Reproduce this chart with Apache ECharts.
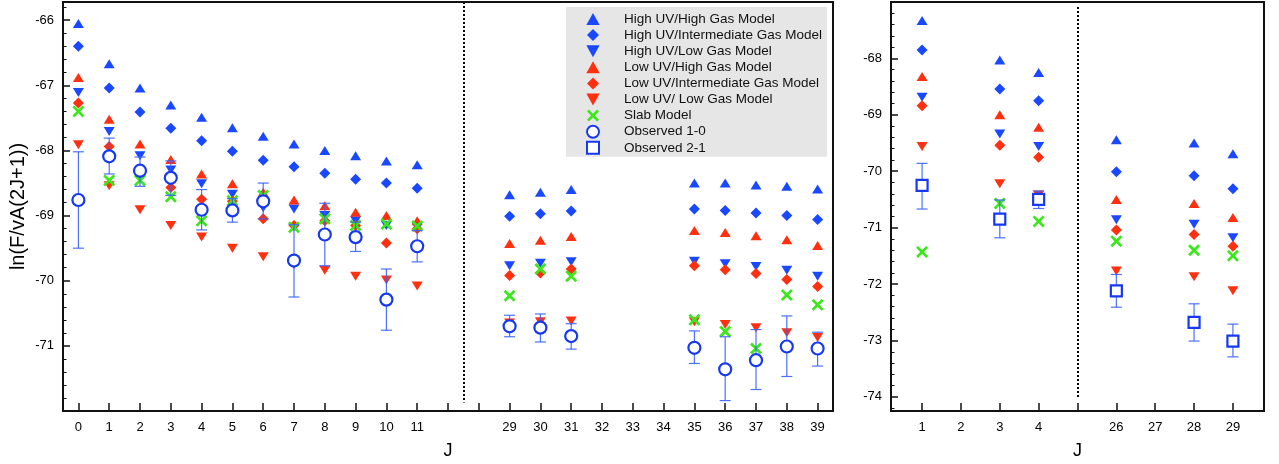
<!DOCTYPE html>
<html>
<head>
<meta charset="utf-8">
<script src="https://cdn.jsdelivr.net/npm/echarts@6/dist/echarts.min.js"></script>
<style>html,body{margin:0;padding:0;background:#fff;}#c{width:1279px;height:464px;}</style>
</head>
<body>
<div id="c"></div>
<script>
// ---------- DATA ----------
// Left panel (observed 1-0 transitions)
const leftJ = [0,1,2,3,4,5,6,7,8,9,10,11, 29,30,31, 35,36,37,38,39];
const leftTickLabels = ['0','1','2','3','4','5','6','7','8','9','10','11','','','29','30','31','32','33','34','35','36','37','38','39'];
const hhL = [-66.05,-66.67,-67.04,-67.30,-67.49,-67.65,-67.78,-67.90,-68.00,-68.08,-68.16,-68.22, -68.68,-68.64,-68.60, -68.50,-68.50,-68.53,-68.55,-68.59];
const hiL = [-66.40,-67.04,-67.41,-67.66,-67.85,-68.01,-68.15,-68.25,-68.35,-68.44,-68.50,-68.58, -69.01,-68.97,-68.93, -68.90,-68.92,-68.96,-69.00,-69.06];
const hlL = [-67.11,-67.71,-68.08,-68.30,-68.51,-68.67,-68.88,-68.90,-69.00,-69.08,-69.15,-69.18, -69.77,-69.73,-69.71, -69.70,-69.74,-69.78,-69.84,-69.93];
const lhL = [-66.88,-67.52,-67.90,-68.14,-68.36,-68.51,-68.64,-68.76,-68.85,-68.95,-69.00,-69.08, -69.43,-69.38,-69.32, -69.23,-69.26,-69.31,-69.37,-69.46];
const liL = [-67.27,-67.94,-68.35,-68.57,-68.75,-68.78,-69.05,-69.15,-69.08,-69.15,-69.42,-69.20, -69.92,-69.88,-69.82, -69.77,-69.83,-69.89,-69.98,-70.09];
const llL = [-67.91,-68.54,-68.91,-69.15,-69.33,-69.50,-69.63,-69.75,-69.84,-69.93,-69.99,-70.08, -70.65,-70.63,-70.62, -70.63,-70.67,-70.72,-70.80,-70.87];
const slabL = [-67.40,-68.46,-68.46,-68.71,-69.08,-68.77,-68.69,-69.18,-69.05,-69.15,-69.13,-69.16, -70.23,-69.82,-69.93, -70.60,-70.78,-71.04,-70.22,-70.37];
const obs10 = [-68.76,-68.09,-68.31,-68.42,-68.91,-68.92,-68.78,-69.69,-69.29,-69.33,-70.29,-69.47, -70.70,-70.72,-70.85, -71.03,-71.36,-71.22,-71.01,-71.04];
const obs10Hi = [-68.02,-67.81,-68.10,-68.16,-68.60,-68.74,-68.50,-69.14,-68.81,-69.10,-69.82,-69.23, -70.53,-70.51,-70.66, -70.77,-70.86,-70.75,-70.54,-70.79];
const obs10Lo = [-69.50,-68.36,-68.55,-68.69,-69.22,-69.10,-69.05,-70.25,-69.77,-69.55,-70.76,-69.71, -70.86,-70.94,-71.05, -71.27,-71.84,-71.67,-71.47,-71.31];

// Right panel (observed 2-1 transitions)
const rightJ = [1,3,4,26,28,29];
const rightTickLabels = ['1','2','3','4','','26','27','28','29'];
const hhR = [-67.33,-68.03,-68.25,-69.44,-69.50,-69.69];
const hiR = [-67.85,-68.54,-68.75,-70.01,-70.08,-70.31];
const hlR = [-68.69,-69.34,-69.56,-70.86,-70.94,-71.18];
const lhR = [-68.32,-69.00,-69.22,-70.50,-70.57,-70.82];
const liR = [-68.84,-69.54,-69.75,-71.04,-71.12,-71.33];
const llR = [-69.56,-70.22,-70.42,-71.77,-71.87,-72.12];
const slabR = [-71.43,-70.57,-70.89,-71.24,-71.40,-71.50];
const obs21 = [-70.25,-70.85,-70.50,-72.12,-72.68,-73.01];
const obs21Hi = [-69.86,-70.51,-70.35,-71.83,-72.35,-72.71];
const obs21Lo = [-70.67,-71.18,-70.66,-72.41,-73.01,-73.29];

const leftYTicks = [-71,-70,-69,-68,-67,-66];
const rightYTicks = [-74,-73,-72,-71,-70,-69,-68];

// ---------- HELPERS ----------
const leftIdx = j => (j <= 11 ? j : j - 15);
const rightIdx = j => (j <= 4 ? j - 1 : j - 21);

const BLUE = '#1a48ff', RED = '#ff3010', GREEN = '#3ae81a', OBS = '#1638f0';
const TRI_UP = 'path://M5,0 L10,9 L0,9 Z';
const TRI_DOWN = 'path://M0,0 L10,0 L5,9 Z';
const DIAMOND = 'path://M5,0 L10,5 L5,10 L0,5 Z';
const SQUARE = 'path://M0,0 L10,0 L10,10 L0,10 Z';
const XMARK = 'path://M0,1.6 L1.6,0 L5,3.4 L8.4,0 L10,1.6 L6.6,5 L10,8.4 L8.4,10 L5,6.6 L1.6,10 L0,8.4 L3.4,5 Z';

const models = [
  {name:'High UV/High Gas Model', L:hhL, R:hhR, symbol:TRI_UP, size:[11,10], color:BLUE},
  {name:'High UV/Intermediate Gas Model', L:hiL, R:hiR, symbol:DIAMOND, size:[11,11], color:BLUE},
  {name:'High UV/Low Gas Model', L:hlL, R:hlR, symbol:TRI_DOWN, size:[11,10], color:BLUE},
  {name:'Low UV/High Gas Model', L:lhL, R:lhR, symbol:TRI_UP, size:[11,10], color:RED},
  {name:'Low UV/Intermediate Gas Model', L:liL, R:liR, symbol:DIAMOND, size:[11,11], color:RED},
  {name:'Low UV/ Low Gas Model', L:llL, R:llR, symbol:TRI_DOWN, size:[11,10], color:RED},
  {name:'Slab Model', L:slabL, R:slabR, symbol:XMARK, size:[12,12], color:GREEN}
];

function pts(js, vals, idxFn){ return js.map((j,i)=>[idxFn(j), vals[i]]); }
function errPts(js, hi, lo, idxFn){ return js.map((j,i)=>[idxFn(j), hi[i], lo[i]]); }

function errRender(params, api){
  const x = api.value(0);
  const p1 = api.coord([x, api.value(1)]);
  const p2 = api.coord([x, api.value(2)]);
  const w = 5.5;
  const st = {stroke:'#3a62ff', lineWidth:1.2, opacity:0.9};
  return {type:'group', children:[
    {type:'line', shape:{x1:p1[0], y1:p1[1], x2:p2[0], y2:p2[1]}, style:st},
    {type:'line', shape:{x1:p1[0]-w, y1:p1[1], x2:p1[0]+w, y2:p1[1]}, style:st},
    {type:'line', shape:{x1:p2[0]-w, y1:p2[1], x2:p2[0]+w, y2:p2[1]}, style:st}
  ]};
}

function minorVals(lo, hi){
  const out = [];
  for (let k = Math.ceil(lo*5 - 1e-9); k <= Math.floor(hi*5 + 1e-9); k++){ if (k % 5 !== 0) out.push(k/5); }
  return out;
}

const FONT = '"Liberation Sans", Arial, Helvetica, sans-serif';
const LMIN = -72, LMAX = -65.72, RMIN = -74.25, RMAX = -67.0;

const series = [];
models.forEach(m => {
  series.push({type:'scatter', name:m.name, xAxisIndex:0, yAxisIndex:0, data:pts(leftJ, m.L, leftIdx),
    symbol:m.symbol, symbolSize:m.size, symbolKeepAspect:true, itemStyle:{color:m.color, opacity:1}, z:2, silent:true});
  series.push({type:'scatter', name:m.name, xAxisIndex:1, yAxisIndex:2, data:pts(rightJ, m.R, rightIdx),
    symbol:m.symbol, symbolSize:m.size, symbolKeepAspect:true, itemStyle:{color:m.color, opacity:1}, z:2, silent:true});
});
series.push({type:'custom', name:'err10', xAxisIndex:0, yAxisIndex:0, renderItem:errRender,
  data:errPts(leftJ, obs10Hi, obs10Lo, leftIdx), z:3, silent:true});
series.push({type:'custom', name:'err21', xAxisIndex:1, yAxisIndex:2, renderItem:errRender,
  data:errPts(rightJ, obs21Hi, obs21Lo, rightIdx), z:3, silent:true});
series.push({type:'scatter', name:'Observed 1-0', xAxisIndex:0, yAxisIndex:0, data:pts(leftJ, obs10, leftIdx),
  symbol:'circle', symbolSize:12, itemStyle:{color:'#ffffff', borderColor:OBS, borderWidth:2.2, opacity:1}, z:4, silent:true,
  markLine:{silent:true, symbol:['none','none'], label:{show:false}, animation:false,
    lineStyle:{color:'#000', width:2, type:[2,2]},
    data:[[{coord:[12.5, LMAX]},{coord:[12.5, -71.87]}]]}});
series.push({type:'scatter', name:'Observed 2-1', xAxisIndex:1, yAxisIndex:2, data:pts(rightJ, obs21, rightIdx),
  symbol:SQUARE, symbolSize:11, symbolKeepAspect:true, itemStyle:{color:'#ffffff', borderColor:OBS, borderWidth:2.2, opacity:1}, z:4, silent:true,
  markLine:{silent:true, symbol:['none','none'], label:{show:false}, animation:false,
    lineStyle:{color:'#000', width:2, type:[2,2]},
    data:[[{coord:[4, -67.09]},{coord:[4, -74.0]}]]}});

function xAxisDef(grid, min, max, tickVals, labelVals, labels){
  return {type:'value', gridIndex:grid, min:min, max:max,
    name:'J', nameLocation:'middle', nameGap:31, nameMoveOverlap:false,
    nameTextStyle:{fontFamily:FONT, fontSize:18, color:'#000'},
    splitLine:{show:false},
    axisLine:{show:true, onZero:false, lineStyle:{color:'#111', width:2}},
    axisTick:{show:true, inside:true, length:8, customValues:tickVals, lineStyle:{color:'#111', width:1.5}},
    axisLabel:{show:true, customValues:labelVals, margin:10, fontFamily:FONT, fontSize:13, color:'#000',
      formatter:v => labels[Math.round(v)] || ''}};
}
function yMajor(grid, min, max, vals, name){
  return {type:'value', gridIndex:grid, min:min, max:max, position:'left',
    name:name, nameLocation:'middle', nameGap:35, nameRotate:90, nameMoveOverlap:false,
    nameTextStyle:{fontFamily:FONT, fontSize:20, color:'#000'},
    splitLine:{show:false},
    axisLine:{show:true, onZero:false, lineStyle:{color:'#111', width:2}},
    axisTick:{show:true, inside:true, length:7, customValues:vals, lineStyle:{color:'#111', width:1.5}},
    axisLabel:{show:true, customValues:vals, margin:9, fontFamily:FONT, fontSize:13, color:'#000'}};
}
function yMinor(grid, min, max, vals){
  return {type:'value', gridIndex:grid, min:min, max:max, position:'left',
    splitLine:{show:false}, axisLine:{show:false, onZero:false},
    axisTick:{show:true, inside:true, length:3.5, customValues:vals, lineStyle:{color:'#111', width:1}},
    axisLabel:{show:false}};
}

const option = {
  animation:false,
  backgroundColor:'#ffffff',
  textStyle:{fontFamily:FONT},
  grid:[
    {left:63, top:2, width:770, height:409, show:true, borderColor:'#111', borderWidth:2, backgroundColor:'transparent', containLabel:false, outerBoundsMode:'none'},
    {left:891, top:2, width:373, height:409, show:true, borderColor:'#111', borderWidth:2, backgroundColor:'transparent', containLabel:false, outerBoundsMode:'none'}
  ],
  xAxis:[
    xAxisDef(0, -0.5, 24.5, Array.from({length:25},(_, i)=>i), leftTickLabels.map((t,i)=>t?i:null).filter(v=>v!==null), leftTickLabels),
    xAxisDef(1, -0.8, 8.8, Array.from({length:9},(_, i)=>i), rightTickLabels.map((t,i)=>t?i:null).filter(v=>v!==null), rightTickLabels)
  ],
  yAxis:[
    yMajor(0, LMIN, LMAX, leftYTicks, 'ln(F/vA(2J+1))'),
    yMinor(0, LMIN, LMAX, minorVals(LMIN, LMAX)),
    yMajor(1, RMIN, RMAX, rightYTicks, ''),
    yMinor(1, RMIN, RMAX, minorVals(RMIN, RMAX))
  ],
  legend:{
    show:true, orient:'vertical', left:566, top:7,
    data:models.map(m=>m.name).concat(['Observed 1-0','Observed 2-1']),
    backgroundColor:'#e6e6e6', borderWidth:0, borderRadius:0,
    padding:[5,5,2,20], itemWidth:52, itemHeight:12, itemGap:2.1,
    selectedMode:false, symbolKeepAspect:true,
    textStyle:{fontFamily:FONT, fontSize:13.5, color:'#111'}
  },
  series:series
};

const chart = echarts.init(document.getElementById('c'), null, {renderer:'canvas'});
chart.setOption(option);
</script>
</body>
</html>
